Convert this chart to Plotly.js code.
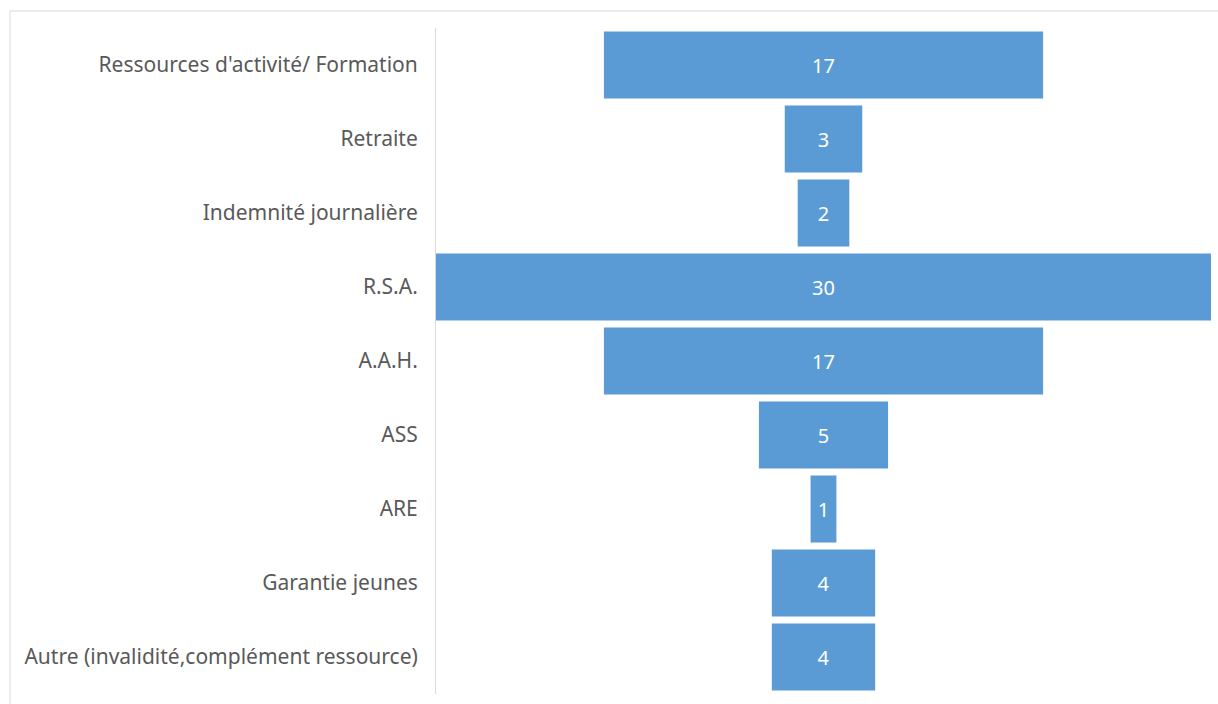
<!DOCTYPE html>
<html><head><meta charset="utf-8">
<script src="https://cdn.plot.ly/plotly-3.0.1.min.js"></script>
<style>html,body{margin:0;padding:0;background:#fff}</style>
</head><body>
<div id="chart" style="width:1218px;height:704px"></div>
<script>
var categories = ["Ressources d'activité/ Formation","Retraite","Indemnité journalière","R.S.A.","A.A.H.","ASS","ARE","Garantie jeunes","Autre (invalidité,complément ressource)"];
var values = [17,3,2,30,17,5,1,4,4];

var L=436, R=1211, T=28, B=694;
var W=1218, H=704;
var pw=R-L, ph=B-T;
function px(x){return (x-L)/pw;}
function py(y){return (B-y)/ph;}

var trace = {
  type:'funnel',
  y:categories,
  x:values,
  textinfo:'value',
  textposition:'inside',
  insidetextanchor:'middle',
  constraintext:'none',
  textfont:{color:'#ffffff',size:20,family:'Noto Sans, sans-serif'},
  marker:{color:'#5b9bd5',line:{width:0}},
  connector:{visible:false},
  hoverinfo:'x+y'
};
var layout = {
  width:W,height:H,
  margin:{l:L,r:W-R,t:T,b:H-B,pad:0},
  paper_bgcolor:'#ffffff',plot_bgcolor:'#ffffff',
  showlegend:false,
  funnelgap:0.095,
  font:{family:'Noto Sans, sans-serif',color:'#595959',size:21},
  xaxis:{range:[-15,15],showgrid:false,zeroline:false,showticklabels:false,showline:false,fixedrange:true},
  yaxis:{showline:true,linecolor:'#d9d9d9',linewidth:1,showgrid:false,ticks:'',ticklabelstandoff:13,
         tickfont:{size:21,color:'#595959',family:'Noto Sans, sans-serif'}},
  shapes:[
    {type:'line',xref:'paper',yref:'paper',x0:px(10),x1:px(1218),y0:py(11),y1:py(11),line:{color:'#d9d9d9',width:1}},
    {type:'line',xref:'paper',yref:'paper',x0:px(10),x1:px(10),y0:py(11),y1:py(704),line:{color:'#d9d9d9',width:1}}
  ]
};
Plotly.newPlot('chart',[trace],layout,{displayModeBar:false,staticPlot:true});
</script>
</body></html>
